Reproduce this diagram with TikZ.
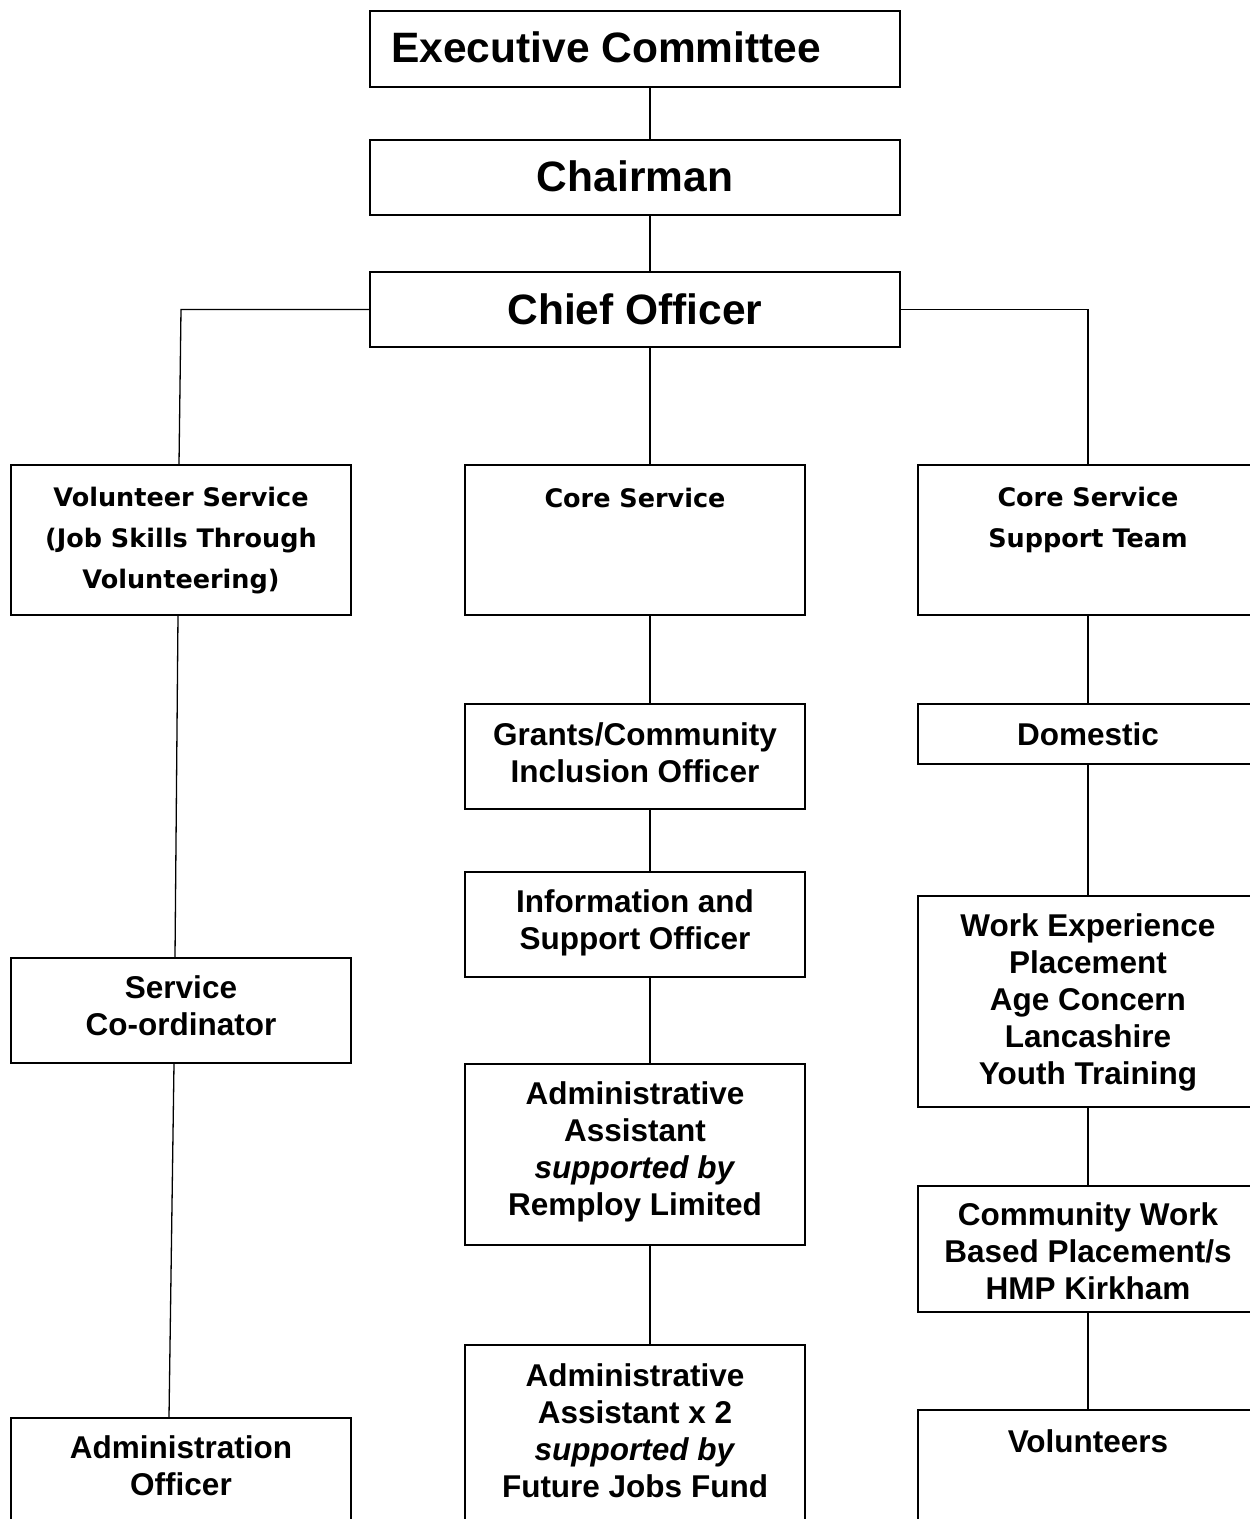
\documentclass[tikz,border=0pt]{standalone}
\usepackage{fontspec}
\setmainfont{Liberation Sans}
\newfontfamily\comicfont{DejaVu Sans}
\begin{document}
\begin{tikzpicture}[x=1pt,y=-1pt,
  box/.style={draw=black, line width=1.3pt, fill=white, inner sep=0pt},
  big/.style={font=\fontsize{42.5}{48}\selectfont\bfseries, inner sep=0pt},
  txt/.style={font=\fontsize{31.5}{37}\selectfont\bfseries, align=center, inner sep=0pt},
  ctxt/.style={font=\comicfont\fontsize{25.5}{41}\selectfont\bfseries, align=center, inner sep=0pt},
  conn/.style={draw=black, line width=1.3pt}]
\useasboundingbox (0,0) rectangle (1250,1519);
\clip (0,0) rectangle (1250,1519);
\fill[white] (0,0) rectangle (1250,1519);
% top boxes
\node[box, minimum width=530pt, minimum height=76pt] (exec) at (635,49) {};
\node[big, anchor=west] (exect) at (391,47) {Executive Committee};
\node[box, minimum width=530pt, minimum height=75pt] (chair) at (635,177.5) {};
\node[big] (chairt) at (635,176) {Chairman};
\node[box, minimum width=530pt, minimum height=75pt] (chief) at (635,309.5) {};
\node[big] (chieft) at (635,309) {Chief Officer};
% second row
\node[box, minimum width=340pt, minimum height=150pt] (vs) at (181,540) {};
\node[ctxt] (vst) at (181,541) {Volunteer Service\\(Job Skills Through\\Volunteering)};
\node[box, minimum width=340pt, minimum height=150pt] (cs) at (635,540) {};
\node[ctxt] (cst) at (635,498) {Core Service};
\node[box, minimum width=340pt, minimum height=150pt] (csst) at (1088,540) {};
\node[ctxt] (csstt) at (1088,520) {Core Service\\Support Team};
% centre column
\node[box, minimum width=340pt, minimum height=105pt] (grants) at (635,756.5) {};
\node[txt] (grantst) at (635,753) {Grants/Community\\Inclusion Officer};
\node[box, minimum width=340pt, minimum height=105pt] (info) at (635,924.5) {};
\node[txt] (infot) at (635,923) {Information and\\Support Officer};
\node[box, minimum width=340pt, minimum height=181pt] (aa) at (635,1154.5) {};
\node[txt] (aat) at (635,1152) {Administrative\\Assistant\\\textit{supported by}\\Remploy Limited};
\node[box, minimum width=340pt, minimum height=200pt] (aa2) at (635,1445) {};
\node[txt] (aa2t) at (635,1431) {Administrative\\Assistant x 2\\\textit{supported by}\\Future Jobs Fund};
% left column
\node[box, minimum width=340pt, minimum height=105pt] (sc) at (181,1010.5) {};
\node[txt] (sct) at (181,1006) {Service\\Co-ordinator};
\node[box, minimum width=340pt, minimum height=127pt] (ao) at (181,1481.5) {};
\node[txt] (aot) at (181,1466) {Administration\\Officer};
% right column
\node[box, minimum width=340pt, minimum height=60pt] (dom) at (1088,734) {};
\node[txt] (domt) at (1088,734) {Domestic};
\node[box, minimum width=340pt, minimum height=211pt] (we) at (1088,1001.5) {};
\node[txt] (wet) at (1088,1002) {Work Experience\\Placement\\Age Concern\\Lancashire\\Youth Training};
\node[box, minimum width=340pt, minimum height=126pt] (cw) at (1088,1249) {};
\node[txt] (cwt) at (1088,1251) {Community Work\\Based Placement/s\\HMP Kirkham};
\node[box, minimum width=340pt, minimum height=135pt] (vol) at (1088,1477.5) {};
\node[txt] (volt) at (1088,1441) {Volunteers};
% connectors
\draw[conn] ([xshift=15pt]exec.south) -- ([xshift=15pt]chair.north);
\draw[conn] ([xshift=15pt]chair.south) -- ([xshift=15pt]chief.north);
\draw[conn] ([xshift=15pt]chief.south) -- ([xshift=15pt]cs.north);
\draw[conn] (chief.west) -- (chief.west -| vs.north) -- ([xshift=-2pt]vs.north);
\draw[conn] (chief.east) -- (chief.east -| csst.north) -- (csst.north);
\draw[conn] ([xshift=15pt]cs.south) -- ([xshift=15pt]grants.north);
\draw[conn] ([xshift=15pt]grants.south) -- ([xshift=15pt]info.north);
\draw[conn] ([xshift=15pt]info.south) -- ([xshift=15pt]aa.north);
\draw[conn] ([xshift=15pt]aa.south) -- ([xshift=15pt]aa2.north);
\draw[conn] ([xshift=-3pt]vs.south) -- ([xshift=-6pt]sc.north);
\draw[conn] ([xshift=-7pt]sc.south) -- ([xshift=-12pt]ao.north);
\draw[conn] (csst.south) -- (dom.north);
\draw[conn] (dom.south) -- (we.north);
\draw[conn] (we.south) -- (cw.north);
\draw[conn] (cw.south) -- (vol.north);
\end{tikzpicture}
\end{document}
